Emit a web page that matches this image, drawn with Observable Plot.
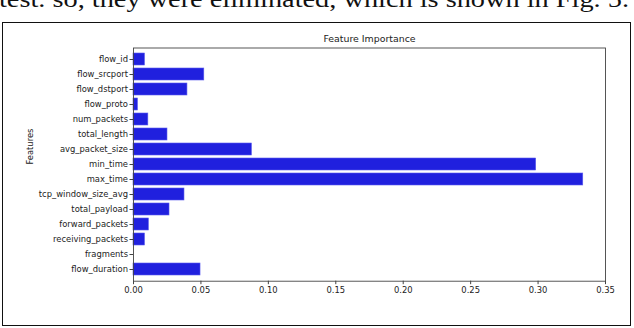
<!DOCTYPE html>
<html>
<head>
<meta charset="utf-8">
<script src="https://cdn.jsdelivr.net/npm/d3@7"></script>
<script src="https://cdn.jsdelivr.net/npm/@observablehq/plot@0.6"></script>
<style>
  html, body { margin: 0; padding: 0; background: #fff; }
  #page { position: relative; width: 634px; height: 328px; overflow: hidden; background: #fff; }
  #caption { position: absolute; left: 0; top: 0; }
  #box { position: absolute; left: 2px; top: 22px; width: 627px; height: 302px; border: 1.6px solid #111; }
  #chart { position: absolute; left: 0; top: 0; }
</style>
</head>
<body>
<div id="page">
  <svg id="caption" width="634" height="22">
    <text x="-1" y="7" font-family="Liberation Serif, serif" font-size="23" fill="#111" textLength="630" lengthAdjust="spacingAndGlyphs">test. so, they were eliminated, which is shown in Fig. 5.</text>
  </svg>
  <div id="box"></div>
  <div id="chart"></div>
</div>
<script>
const features = ["flow_id", "flow_srcport", "flow_dstport", "flow_proto", "num_packets",
  "total_length", "avg_packet_size", "min_time", "max_time", "tcp_window_size_avg",
  "total_payload", "forward_packets", "receiving_packets", "fragments", "flow_duration"];
const importance = [0.0085, 0.0525, 0.0400, 0.0033, 0.0110,
  0.0252, 0.0878, 0.2986, 0.3335, 0.0378,
  0.0267, 0.0114, 0.0085, 0.0, 0.0497];
const xTicks = [0, 0.05, 0.10, 0.15, 0.20, 0.25, 0.30, 0.35];
const titleText = "Feature Importance";
const yLabel = "Features";

const data = features.map((f, i) => ({feature: f, value: importance[i]}));
const font = "DejaVu Sans, sans-serif";

const chart = Plot.plot({
  width: 634,
  height: 328,
  marginLeft: 133,
  marginRight: 29,
  marginTop: 47.5,
  marginBottom: 47.3,
  style: {fontFamily: font, fontSize: "8.4px", color: "#222", background: "transparent", overflow: "visible"},
  x: {domain: [0, 0.35], ticks: xTicks, tickFormat: d3.format(".2f"), label: null, tickSize: 3.5, tickPadding: 2},
  y: {domain: features, paddingInner: 0.2, paddingOuter: 0.1, label: null, tickSize: 3.5, tickPadding: 2},
  marks: [
    Plot.barX(data, {x: "value", y: "feature", fill: "#2020de", stroke: "#5a5aee", strokeWidth: 0.6}),
    Plot.frame({stroke: "#444", strokeWidth: 0.9}),
    Plot.axisX({ticks: xTicks, tickFormat: d3.format(".2f"), tickSize: 3.5, tickPadding: 2.5, stroke: "#444", fontSize: 8.4, label: null}),
    Plot.axisY({tickSize: 3.5, tickPadding: 2, stroke: "#444", fontSize: 8.4, label: null}),
    Plot.text([titleText], {frameAnchor: "top", dy: -6.5, lineAnchor: "bottom", fontSize: 9.4, fill: "#222", text: d => d}),
    Plot.text([yLabel], {frameAnchor: "left", dx: -103, rotate: -90, fontSize: 8.4, fill: "#222", text: d => d})
  ]
});
document.getElementById("chart").appendChild(chart);
</script>
</body>
</html>
